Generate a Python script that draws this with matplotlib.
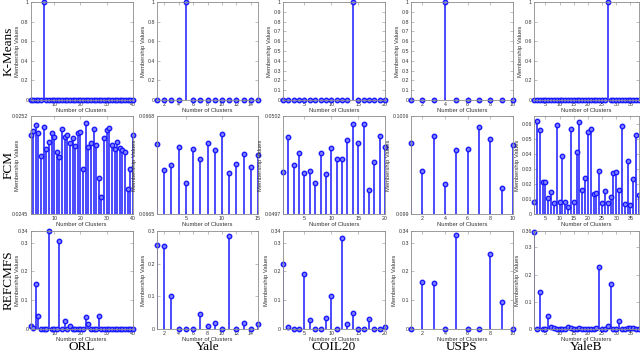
import matplotlib.pyplot as plt

# ---- data ----
datasets = ["ORL", "Yale", "COIL20", "USPS", "YaleB"]
methods = ["K-Means", "FCM", "REFCMFS"]

km_orl = [0, 0, 0, 0, 0, 1, 0, 0, 0, 0,
          0, 0, 0, 0, 0, 0, 0, 0, 0, 0,
          0, 0, 0, 0, 0, 0, 0, 0, 0, 0,
          0, 0, 0, 0, 0, 0, 0, 0, 0, 0]
km_yale = [0, 0, 0, 0, 1, 0, 0, 0, 0, 0, 0, 0, 0, 0, 0]
km_coil = [0, 0, 0, 0, 0, 0, 0, 0, 0, 0, 0, 0, 0, 1, 0, 0, 0, 0, 0, 0]
km_usps = [0, 0, 0, 1, 0, 0, 0, 0, 0, 0]
km_yaleb = [0, 0, 0, 0, 0, 0, 0, 0, 0, 0,
            0, 0, 0, 0, 0, 0, 0, 0, 0, 0,
            0, 0, 0, 0, 0, 0, 1, 0, 0, 0,
            0, 0, 0, 0, 0, 0, 0, 0]

fcm_orl = [0.025064, 0.025091, 0.025138, 0.025081, 0.024912, 0.025121, 0.024964, 0.025012,
           0.025076, 0.025052, 0.024945, 0.024910, 0.025105, 0.025052, 0.025064, 0.025005,
           0.025045, 0.024986, 0.025081, 0.025086, 0.024819, 0.025148, 0.024981, 0.025005,
           0.025105, 0.024995, 0.024755, 0.024624, 0.025040, 0.025100, 0.025112, 0.024993,
           0.024962, 0.025017, 0.024969, 0.024957, 0.024945, 0.024676, 0.024819, 0.025062]
fcm_yale = [0.066714, 0.066635, 0.066650, 0.066704, 0.066596, 0.066700, 0.066667, 0.066718,
            0.066697, 0.066744, 0.066625, 0.066654, 0.066683, 0.066644, 0.066680]
fcm_coil = [0.049915, 0.050091, 0.049950, 0.050013, 0.049907, 0.049918, 0.049856, 0.050010,
            0.049904, 0.050035, 0.049979, 0.049979, 0.050079, 0.050157, 0.050064, 0.050157,
            0.049822, 0.049967, 0.050098, 0.050044]
fcm_usps = [0.100154, 0.099696, 0.100274, 0.099490, 0.100040, 0.100056, 0.100414, 0.100219,
            0.099424, 0.100121]
fcm_yaleb = [0.0080, 0.0616, 0.0558, 0.0209, 0.0213, 0.0104, 0.0144, 0.0071, 0.0593, 0.0078,
             0.0384, 0.0078, 0.0047, 0.0567, 0.0078, 0.0411, 0.0611, 0.0156, 0.0242, 0.0544,
             0.0562, 0.0133, 0.0142, 0.0282, 0.0071, 0.0153, 0.0071, 0.0111, 0.0269, 0.0280,
             0.0156, 0.0584, 0.0064, 0.0349, 0.0060, 0.0229, 0.0527, 0.0127]

ref_orl = [0.009, 0.002, 0.155, 0.044, 0, 0, 0, 0.34, 0, 0,
           0, 0.307, 0, 0.027, 0, 0.012, 0, 0, 0, 0,
           0, 0.041, 0.019, 0, 0, 0, 0.044, 0, 0, 0,
           0, 0, 0, 0, 0, 0, 0, 0, 0, 0]
ref_yale = [0.256, 0.254, 0.101, 0, 0, 0, 0.047, 0.010, 0.018, 0, 0.285, 0, 0.019, 0, 0.014]
ref_coil = [0.227, 0.008, 0.001, 0.001, 0.19, 0.030, 0.001, 0.001, 0.038, 0.113,
            0.001, 0.317, 0.016, 0.057, 0.001, 0.001, 0.036, 0.001, 0.001, 0.007]
ref_usps = [0, 0.164, 0.159, 0, 0.327, 0, 0, 0.260, 0.093, 0]
ref_yaleb = [0.356, 0.001, 0.136, 0.001, 0.001, 0.047, 0.006, 0.002, 0.001, 0.001,
             0.001, 0.001, 0.009, 0.002, 0.001, 0.001, 0.002, 0.001, 0.001, 0.001,
             0.001, 0.001, 0.002, 0.226, 0.001, 0.001, 0.012, 0.165, 0.001, 0.001,
             0.031, 0.001, 0.001, 0.002, 0.005, 0.003, 0.001, 0.001]

values = [[km_orl, km_yale, km_coil, km_usps, km_yaleb],
          [fcm_orl, fcm_yale, fcm_coil, fcm_usps, fcm_yaleb],
          [ref_orl, ref_yale, ref_coil, ref_usps, ref_yaleb]]

# y limits / ticks per panel
ylims = [[(0, 1)] * 5,
         [(0.0245, 0.0252), (0.0665, 0.0668), (0.0497, 0.0502), (0.099, 0.1006), (0, 0.065)],
         [(0, 0.34), (0, 0.3), (0, 0.34), (0, 0.34), (0, 0.36)]]
yticks = [[[0, 0.2, 0.4, 0.6, 0.8, 1], [0, 0.2, 0.4, 0.6, 0.8, 1],
           [0, 0.1, 0.2, 0.3, 0.4, 0.5, 0.6, 0.7, 0.8, 0.9, 1],
           [0, 0.1, 0.2, 0.3, 0.4, 0.5, 0.6, 0.7, 0.8, 0.9, 1],
           [0, 0.2, 0.4, 0.6, 0.8, 1]],
          [[0.0245, 0.0252], [0.0665, 0.0668], [0.0497, 0.0502], [0.099, 0.1006],
           [0, 0.01, 0.02, 0.03, 0.04, 0.05, 0.06]],
          [[0, 0.1, 0.2, 0.3, 0.34], [0, 0.1, 0.2, 0.3], [0, 0.1, 0.2, 0.3, 0.34],
           [0, 0.1, 0.2, 0.3, 0.34], [0, 0.1, 0.2, 0.3, 0.36]]]
xticks = [[[10, 20, 30, 40], [2, 4, 6, 8, 10, 12, 14], [5, 10, 15, 20], [2, 4, 6, 8, 10], [5, 10, 15, 20, 25, 30, 35]],
          [[10, 20, 30, 40], [5, 10, 15], [5, 10, 15, 20], [2, 4, 6, 8, 10], [5, 10, 15, 20, 25, 30, 35]],
          [[10, 20, 30, 40], [2, 4, 6, 8, 10, 12, 14], [5, 10, 15, 20], [2, 4, 6, 8, 10], [5, 10, 15, 20, 25, 30, 35]]]

# panel boxes in pixels
cols = [(30.5, 133), (157, 258), (283, 385), (411, 513), (534, 639)]
rows = [(2, 100), (116, 214), (231, 329)]
W, H = 640, 353

blue = "#1a1aff"
gray = "#8c8c8c"
tcol = "#333333"
plt.rcParams["font.family"] = ["Liberation Sans", "DejaVu Sans"]

fig = plt.figure(figsize=(6.4, 3.53), dpi=100)

for r, (top, bot) in enumerate(rows):
    for c, (lft, rgt) in enumerate(cols):
        ax = fig.add_axes([lft / W, 1 - bot / H, (rgt - lft) / W, (bot - top) / H])
        y = values[r][c]
        x = list(range(1, len(y) + 1))
        ml, sl, bl = ax.stem(x, y, linefmt="-", markerfmt="o", basefmt=" ")
        sl.set_color(blue)
        sl.set_linewidth(1.1)
        ml.set_color(blue)
        ml.set_markersize(3.2)
        ml.set_markeredgewidth(1.0)
        ml.set_markerfacecolor("#8080ff")
        ml.set_clip_on(False)
        ax.set_xlim(1, len(y))
        ax.set_ylim(*ylims[r][c])
        ax.set_xticks(xticks[r][c])
        ax.set_yticks(yticks[r][c])
        ax.set_yticklabels(["%g" % v for v in yticks[r][c]])
        ax.tick_params(direction="in", top=True, right=True, length=2, width=0.4,
                       color=gray, labelsize=3.8, labelcolor=tcol, pad=1.5)
        for s in ax.spines.values():
            s.set_color(gray)
            s.set_linewidth(0.6)
        ax.set_xlabel("Number of Clusters", fontsize=4.2, color=tcol, labelpad=0.5)
        ax.set_ylabel("Membership Values", fontsize=4.2, color=tcol, labelpad=1)
        if c == 0:
            ax.yaxis.set_label_coords((20 - lft) / (rgt - lft), 0.5)

# row and column titles
for r, (top, bot) in enumerate(rows):
    fig.text(9 / W, 1 - (top + bot) / 2 / H, methods[r], rotation=90, ha="center", va="center",
             fontsize=9.5, family="Liberation Serif")
for c, (lft, rgt) in enumerate(cols):
    fig.text((lft + rgt) / 2 / W, 1 - 347 / H, datasets[c], ha="center", va="center",
             fontsize=9.5, family="Liberation Serif")

plt.savefig("out.png", dpi=100)
